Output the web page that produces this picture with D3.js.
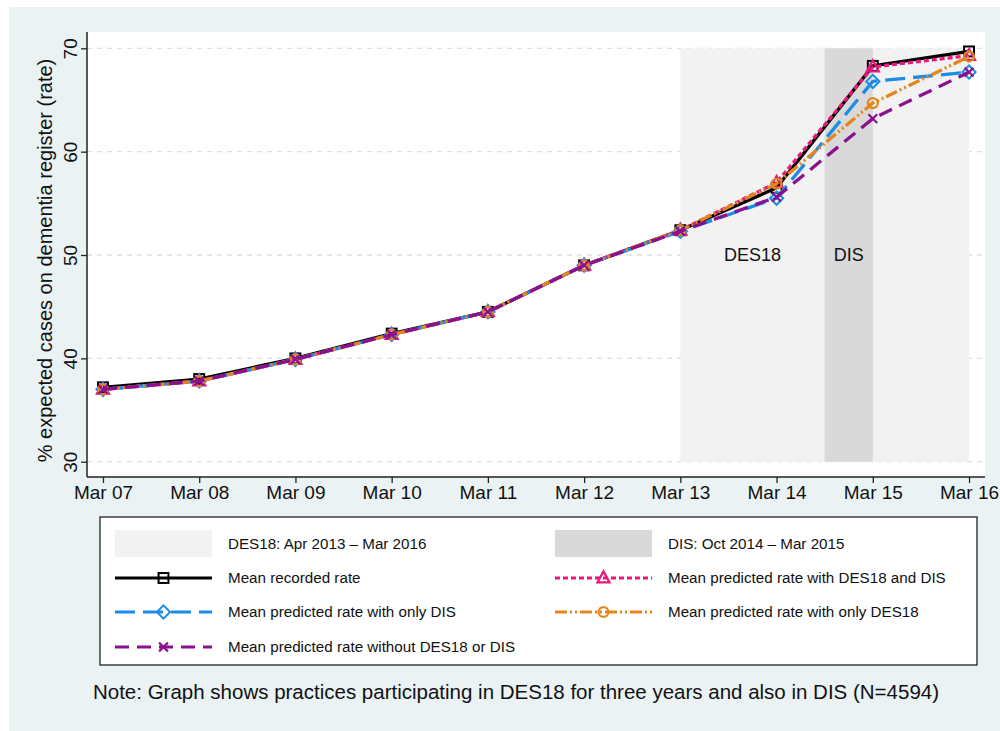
<!DOCTYPE html>
<html>
<head>
<meta charset="utf-8">
<script src="https://cdn.jsdelivr.net/npm/d3@7"></script>
<style>
  html, body { margin: 0; padding: 0; background: #fff; }
  svg { display: block; font-family: "Liberation Sans", Arial, sans-serif; }
</style>
</head>
<body>
<svg id="chart"></svg>
<script>
// x categories (one per March)
const periods = ["Mar 07", "Mar 08", "Mar 09", "Mar 10", "Mar 11", "Mar 12", "Mar 13", "Mar 14", "Mar 15", "Mar 16"];
const yTicks = [30, 40, 50, 60, 70];

// series values
const recorded  = [37.2, 38.0, 40.0, 42.4, 44.5, 49.0, 52.4, 56.5, 68.3, 69.7];
const predBoth  = [37.0, 37.8, 39.9, 42.3, 44.5, 49.0, 52.4, 57.0, 68.2, 69.3];
const predDIS   = [37.0, 37.8, 39.9, 42.3, 44.5, 49.0, 52.3, 55.5, 66.8, 67.7];
const predDES18 = [37.0, 37.8, 39.9, 42.3, 44.5, 49.0, 52.4, 56.9, 64.7, 69.2];
const predNone  = [37.0, 37.8, 39.9, 42.3, 44.5, 49.0, 52.3, 55.6, 63.2, 67.7];

// shaded periods, in period-index units, and the band they cover on y
const des18Span = [6, 9];
const disSpan = [7.5, 8];
const shadeBand = [30, 70];

const series = [
    { name: "Mean recorded rate", values: recorded, color: "#000000", dash: null, marker: "square" },
    { name: "Mean predicted rate with DES18 and DIS", values: predBoth, color: "#e8197d", dash: "5,3", marker: "triangle" },
    { name: "Mean predicted rate with only DIS", values: predDIS, color: "#1c8ce6", dash: "20,8", marker: "diamond" },
    { name: "Mean predicted rate with only DES18", values: predDES18, color: "#e3871d", dash: "12,3,2,3,2,3", marker: "circle" },
    { name: "Mean predicted rate without DES18 or DIS", values: predNone, color: "#8a1090", dash: "14,8", marker: "cross" }
];

const width = 1000, height = 731;
const plot = { left: 87, right: 985, top: 32, bottom: 477 };

const svg = d3.select("#chart")
    .attr("width", width)
    .attr("height", height)
    .attr("viewBox", [0, 0, width, height]);

// graph region background
svg.append("rect")
    .attr("x", 9).attr("y", 7)
    .attr("width", width - 9).attr("height", height - 7)
    .attr("fill", "#eaf2f3");

svg.append("rect")
    .attr("x", plot.left).attr("y", plot.top)
    .attr("width", plot.right - plot.left).attr("height", plot.bottom - plot.top)
    .attr("fill", "#ffffff");

const x = d3.scaleLinear()
    .domain([-0.166, 9.166])
    .range([plot.left, plot.right]);

const y = d3.scaleLinear()
    .domain([28.52, 71.58])
    .range([plot.bottom, plot.top]);

// gridlines
svg.append("g")
    .selectAll("line")
    .data(yTicks)
    .join("line")
        .attr("x1", plot.left).attr("x2", plot.right)
        .attr("y1", d => y(d)).attr("y2", d => y(d))
        .attr("stroke", "#dedede")
        .attr("stroke-width", 1.3)
        .attr("stroke-dasharray", "5,5");

// shaded periods
svg.append("rect")
    .attr("x", x(des18Span[0]))
    .attr("y", y(shadeBand[1]))
    .attr("width", x(des18Span[1]) - x(des18Span[0]))
    .attr("height", y(shadeBand[0]) - y(shadeBand[1]))
    .attr("fill", "#f2f2f2");

svg.append("rect")
    .attr("x", x(disSpan[0]))
    .attr("y", y(shadeBand[1]))
    .attr("width", x(disSpan[1]) - x(disSpan[0]))
    .attr("height", y(shadeBand[0]) - y(shadeBand[1]))
    .attr("fill", "#d9d9d9");

svg.append("text")
    .attr("x", x((des18Span[0] + disSpan[0]) / 2))
    .attr("y", y(50) + 6)
    .attr("text-anchor", "middle")
    .attr("font-size", 18)
    .attr("fill", "#111")
    .text("DES18");

svg.append("text")
    .attr("x", x((disSpan[0] + disSpan[1]) / 2))
    .attr("y", y(50) + 6)
    .attr("text-anchor", "middle")
    .attr("font-size", 18)
    .attr("fill", "#111")
    .text("DIS");

// axes
const xAxis = svg.append("g")
    .attr("transform", `translate(0,${plot.bottom})`)
    .call(d3.axisBottom(x)
        .tickValues(d3.range(periods.length))
        .tickFormat(i => periods[i])
        .tickSizeOuter(0)
        .tickSize(6)
        .tickPadding(3));

xAxis.select(".domain").remove();
xAxis.append("line")
    .attr("x1", plot.left).attr("x2", plot.right)
    .attr("stroke", "#222").attr("stroke-width", 1.5);
xAxis.selectAll(".tick line").attr("stroke", "#222").attr("stroke-width", 1.3);
xAxis.selectAll(".tick text")
    .attr("font-size", 19)
    .attr("font-family", "Liberation Sans, Arial, sans-serif")
    .attr("fill", "#111");

const yAxis = svg.append("g")
    .attr("transform", `translate(${plot.left},0)`)
    .call(d3.axisLeft(y)
        .tickValues(yTicks)
        .tickSizeOuter(0)
        .tickSize(6));

yAxis.select(".domain").remove();
yAxis.append("line")
    .attr("y1", plot.top).attr("y2", plot.bottom)
    .attr("stroke", "#222").attr("stroke-width", 1.5);
yAxis.selectAll(".tick line").attr("stroke", "#222").attr("stroke-width", 1.3);
yAxis.selectAll(".tick text")
    .attr("font-size", 19)
    .attr("font-family", "Liberation Sans, Arial, sans-serif")
    .attr("fill", "#111")
    .attr("x", null).attr("dy", null)
    .attr("text-anchor", "middle")
    .attr("transform", "translate(-10,0) rotate(-90)");

svg.append("text")
    .attr("transform", `translate(52,${(plot.top + plot.bottom) / 2 + 6}) rotate(-90)`)
    .attr("text-anchor", "middle")
    .attr("font-size", 20)
    .attr("fill", "#111")
    .text("% expected cases on dementia register (rate)");

// markers
function drawMarker(g, kind, cx, cy, color, s) {
    if (kind === "square") {
        g.append("rect")
            .attr("x", cx - s * 0.45).attr("y", cy - s * 0.45)
            .attr("width", s * 0.9).attr("height", s * 0.9)
            .attr("fill", "none").attr("stroke", color).attr("stroke-width", 2);
    } else if (kind === "triangle") {
        g.append("path")
            .attr("d", `M${cx},${cy - s * 0.6}L${cx + s * 0.55},${cy + s * 0.4}L${cx - s * 0.55},${cy + s * 0.4}Z`)
            .attr("fill", "none").attr("stroke", color).attr("stroke-width", 2.2);
    } else if (kind === "diamond") {
        g.append("path")
            .attr("d", `M${cx},${cy - s * 0.6}L${cx + s * 0.6},${cy}L${cx},${cy + s * 0.6}L${cx - s * 0.6},${cy}Z`)
            .attr("fill", "none").attr("stroke", color).attr("stroke-width", 2);
    } else if (kind === "circle") {
        g.append("circle")
            .attr("cx", cx).attr("cy", cy).attr("r", s * 0.45)
            .attr("fill", "none").attr("stroke", color).attr("stroke-width", 2.2);
    } else if (kind === "cross") {
        const r = s * 0.4;
        g.append("path")
            .attr("d", `M${cx - r},${cy - r}L${cx + r},${cy + r}M${cx - r},${cy + r}L${cx + r},${cy - r}`)
            .attr("fill", "none").attr("stroke", color).attr("stroke-width", 2.2);
    }
}

const line = d3.line()
    .x((d, i) => x(i))
    .y(d => y(d));

const gLines = svg.append("g");

series.forEach(s => {
    gLines.append("path")
        .datum(s.values)
        .attr("d", line)
        .attr("fill", "none")
        .attr("stroke", s.color)
        .attr("stroke-width", 3.3)
        .attr("stroke-linejoin", "round")
        .attr("stroke-dasharray", s.dash);
    const gm = gLines.append("g");
    s.values.forEach((v, i) => drawMarker(gm, s.marker, x(i), y(v), s.color, 11));
});

// legend
const legend = svg.append("g");
legend.append("rect")
    .attr("x", 100).attr("y", 517)
    .attr("width", 877).attr("height", 148)
    .attr("fill", "#ffffff")
    .attr("stroke", "#222")
    .attr("stroke-width", 1.3);

const legendItems = [
    { name: "DES18: Apr 2013 \u2013 Mar 2016", fill: "#f2f2f2" },
    { name: "DIS: Oct 2014 \u2013 Mar 2015", fill: "#d9d9d9" }
].concat(series);

const colX = [115, 555];
const rowY = [544, 578, 612, 647];
const keyW = 97;

legendItems.forEach((item, k) => {
    const cx0 = colX[k % 2];
    const cy = rowY[Math.floor(k / 2)];
    if (item.fill) {
        legend.append("rect")
            .attr("x", cx0).attr("y", cy - 14)
            .attr("width", keyW).attr("height", 27)
            .attr("fill", item.fill);
    } else {
        legend.append("line")
            .attr("x1", cx0).attr("x2", cx0 + keyW)
            .attr("y1", cy).attr("y2", cy)
            .attr("stroke", item.color)
            .attr("stroke-width", 3)
            .attr("stroke-dasharray", item.dash);
        drawMarker(legend, item.marker, cx0 + keyW / 2, cy, item.color, 11);
    }
    legend.append("text")
        .attr("x", cx0 + keyW + 16)
        .attr("y", cy + 5)
        .attr("font-size", 15.2)
        .attr("fill", "#111")
        .text(item.name);
});

svg.append("text")
    .attr("x", 516)
    .attr("y", 699)
    .attr("text-anchor", "middle")
    .attr("font-size", 20.5)
    .attr("fill", "#111")
    .text("Note: Graph shows practices participating in DES18 for three years and also in DIS (N=4594)");
</script>
</body>
</html>
